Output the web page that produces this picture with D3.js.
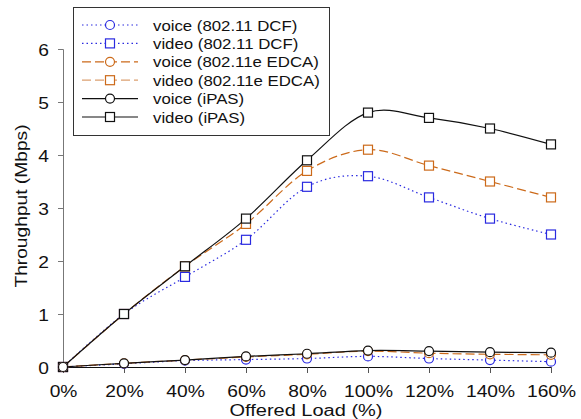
<!DOCTYPE html>
<html>
<head>
<meta charset="utf-8">
<script src="https://cdn.jsdelivr.net/npm/d3@7"></script>
<style>
  body { margin: 0; background: #fff; }
  text { font-family: "Liberation Sans", Arial, sans-serif; fill: #111; }
</style>
</head>
<body>
<div id="chart"></div>
<script>
var loads = [0, 20, 40, 60, 80, 100, 120, 140, 160];
var yTicks = [0, 1, 2, 3, 4, 5, 6];

var voiceDCF  = [0, 0.06, 0.12, 0.14, 0.16, 0.2, 0.16, 0.13, 0.1];
var videoDCF  = [0, 1.0, 1.7, 2.4, 3.4, 3.6, 3.2, 2.8, 2.5];
var voiceEDCA = [0, 0.07, 0.13, 0.19, 0.24, 0.3, 0.26, 0.24, 0.23];
var videoEDCA = [0, 1.0, 1.9, 2.7, 3.7, 4.1, 3.8, 3.5, 3.2];
var voiceIPAS = [0, 0.07, 0.13, 0.2, 0.25, 0.31, 0.3, 0.28, 0.27];
var videoIPAS = [0, 1.0, 1.9, 2.8, 3.9, 4.8, 4.7, 4.5, 4.2];

var series = [
  {name: "voice (802.11 DCF)",   vals: voiceDCF,  color: "#2a2ae0", legColor: "#2a2ae0", dash: "1.5,3", shape: "circle"},
  {name: "video (802.11 DCF)",   vals: videoDCF,  color: "#2a2ae0", legColor: "#2a2ae0", dash: "1.5,3", shape: "square"},
  {name: "voice (802.11e EDCA)", vals: voiceEDCA, color: "#cc6a1a", legColor: "#cc6a1a", dash: "9,4",   shape: "circle"},
  {name: "video (802.11e EDCA)", vals: videoEDCA, color: "#cc6a1a", legColor: "#dca070", dash: "9,4",   shape: "square"},
  {name: "voice (iPAS)",         vals: voiceIPAS, color: "#111",    legColor: "#111",    dash: null,    shape: "circle"},
  {name: "video (iPAS)",         vals: videoIPAS, color: "#111",    legColor: "#111",    dash: null,    shape: "square"}
];

// the original's lettering is a bit wider than Arial
var stretch = 1.2;

var width = 581, height = 419;
var svg = d3.select("#chart").append("svg")
  .attr("width", width)
  .attr("height", height);

var x = d3.scaleLinear().domain([0, 160]).range([63, 551]);
var y = d3.scaleLinear().domain([0, 6]).range([367, 49]);

// y axis
var yAxis = svg.append("g")
  .attr("transform", "translate(63,0)")
  .call(d3.axisLeft(y).tickValues(yTicks).tickSize(5).tickFormat(d3.format("d")));
yAxis.select(".domain").attr("stroke", "#777");
yAxis.selectAll(".tick line").attr("stroke", "#777");
yAxis.selectAll("text")
  .attr("font-size", 16)
  .attr("x", -14 / stretch)
  .attr("dy", "0.38em")
  .attr("transform", "scale(" + stretch + ",1)")
  .style("fill", "#111");

// x axis
var xAxis = svg.append("g")
  .attr("transform", "translate(0,367)")
  .call(d3.axisBottom(x).tickValues(loads).tickSize(6).tickSizeOuter(0).tickPadding(13)
    .tickFormat(function(d) { return d + "%"; }));
xAxis.select(".domain").attr("stroke", "#111");
xAxis.selectAll(".tick line").attr("stroke", "#555");
xAxis.selectAll("text")
  .attr("font-size", 16)
  .attr("transform", "scale(" + stretch + ",1)")
  .style("fill", "#111");

svg.append("text")
  .attr("transform", "translate(306,416) scale(1.25,1)")
  .attr("text-anchor", "middle")
  .attr("font-size", 16)
  .text("Offered Load (%)");

svg.append("text")
  .attr("transform", "translate(27,206) rotate(-90) scale(" + stretch + ",1)")
  .attr("text-anchor", "middle")
  .attr("font-size", 16)
  .text("Throughput (Mbps)");

var line = d3.line()
  .x(function(d, i) { return x(loads[i]); })
  .y(function(d) { return y(d); })
  .curve(d3.curveCardinal.tension(0));

// draw video first, then voice on top
var order = [1, 3, 5, 0, 2, 4];
order.forEach(function(k) {
  var s = series[k];
  svg.append("path")
    .datum(s.vals)
    .attr("d", line)
    .attr("fill", "none")
    .attr("stroke", s.color)
    .attr("stroke-width", 1.2)
    .attr("stroke-dasharray", s.dash);
});

function drawMarker(g, shape, cx, cy, color) {
  if (shape == "circle") {
    g.append("circle")
      .attr("cx", cx).attr("cy", cy).attr("r", 4.5)
      .attr("fill", "#fff").attr("stroke", color).attr("stroke-width", 1.2);
  } else {
    g.append("rect")
      .attr("x", cx - 4.5).attr("y", cy - 4.5)
      .attr("width", 9).attr("height", 9)
      .attr("fill", "#fff").attr("stroke", color).attr("stroke-width", 1.2);
  }
}

var markers = svg.append("g");
order.forEach(function(k) {
  var s = series[k];
  s.vals.forEach(function(v, i) {
    drawMarker(markers, s.shape, x(loads[i]), y(v), s.color);
  });
});

// legend
var legend = svg.append("g");
legend.append("rect")
  .attr("x", 73.5).attr("y", 7.5)
  .attr("width", 256).attr("height", 128)
  .attr("fill", "#fff").attr("stroke", "#333").attr("stroke-width", 1);

series.forEach(function(s, i) {
  var ly = 25 + i * 18.4;
  legend.append("line")
    .attr("x1", 82).attr("x2", 138)
    .attr("y1", ly).attr("y2", ly)
    .attr("stroke", s.legColor)
    .attr("stroke-width", 1.2)
    .attr("stroke-dasharray", s.dash);
  drawMarker(legend, s.shape, 110, ly, s.color);
  legend.append("text")
    .attr("transform", "translate(153," + (ly + 5.5) + ") scale(" + stretch + ",1)")
    .attr("font-size", 14)
    .text(s.name);
});
</script>
</body>
</html>
